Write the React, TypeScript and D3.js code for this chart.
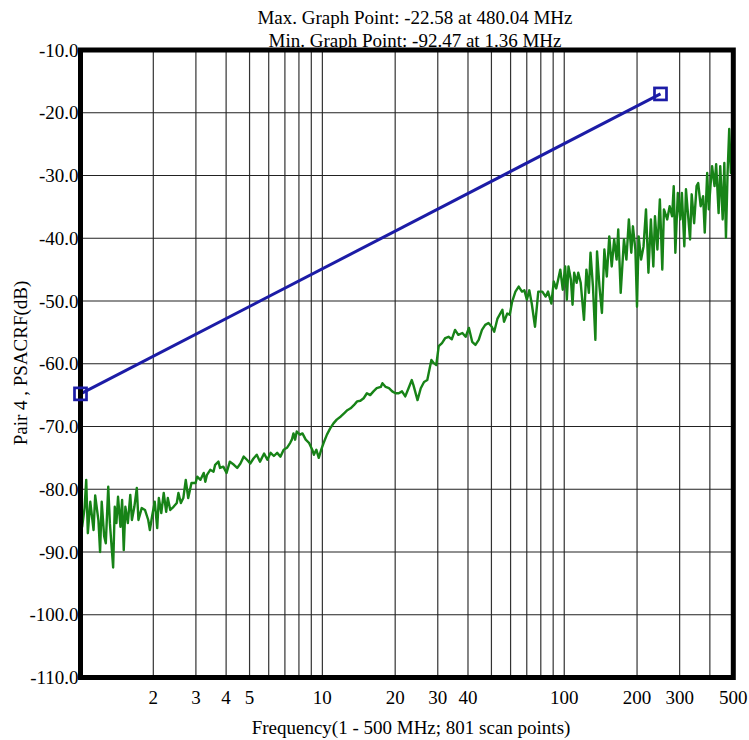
import React from "react";
import * as d3 from "d3";

const W = 749;
const H = 740;

// scan definition: 801 log-spaced points from 1 to 500 MHz
const scanStartMHz = 1;
const scanStopMHz = 500;
const scanCount = 801;

const scanIdx = [
  0, 2, 5, 7, 9, 12, 16, 18, 22, 24, 26, 29, 31, 34, 36, 40, 42, 44, 46, 49, 51, 53, 55, 58, 61, 63, 66, 69, 71, 75,
  79, 83, 85, 88, 91, 94, 96, 99, 102, 105, 107, 110, 114, 118, 120, 123, 126, 129, 132, 136, 141, 143, 147, 151, 153,
  155, 159, 163, 165, 169, 171, 175, 179, 183, 188, 192, 196, 200, 204, 208, 212, 216,
  220, 225, 229, 233, 237, 241, 245, 249, 253, 257, 259, 261, 263, 265, 269, 272, 276, 280, 284, 286, 289, 292, 295,
  298, 302, 306, 310, 314, 319, 323, 327, 331, 335, 339, 343, 347, 351, 355, 359, 363, 368, 370, 374, 378, 382, 386,
  390, 394, 398, 402, 406, 408, 413, 417, 421, 425,
  430, 433, 436, 439, 443, 447, 451, 455, 459, 463, 468, 472, 476, 480, 484, 488, 492, 496, 500, 504, 507, 511, 517,
  519, 523, 526, 529, 533, 537, 541, 544, 547, 550, 553, 557, 561, 566, 570, 573, 577, 580, 583,
  588, 591, 594, 596, 598, 601, 603, 605, 608, 610, 613, 617, 620, 623, 625, 628, 631, 633, 636, 639, 642, 645, 648,
  651, 654, 657, 659, 662, 666, 669, 672, 675, 677, 680, 682, 684, 687, 690, 693, 696, 699, 702, 704, 707, 710, 713,
  715, 719, 722, 725, 727, 729, 732, 735, 737, 740, 742, 745, 747, 749, 752, 755, 757, 760, 763, 765, 768, 770, 772,
  774, 777, 779, 782, 784, 787, 789, 791, 793, 795, 797, 799, 800,
];

const levelDb = [
  -84.5, -86.0, -83.0, -78.5, -87.0, -82.0, -86.5, -81.0, -85.0, -90.0, -82.0, -87.5, -88.6, -79.6, -85.4, -92.47,
  -82.8, -85.4, -81.2, -86.0, -81.7, -89.7, -82.8, -85.4, -80.9, -84.9, -82.8, -79.8, -84.9, -83.0, -83.3, -84.9,
  -86.5, -84.1, -82.0, -86.2, -81.4, -83.8, -80.6, -83.6, -81.4, -83.3, -82.8, -82.2, -80.6, -82.2, -81.4, -78.5,
  -81.4, -79.0, -79.0, -78.0, -78.5, -77.4, -78.8, -77.7, -76.9, -77.2, -76.1, -75.6, -76.6, -76.4, -77.4, -75.6,
  -76.1, -76.6, -75.9, -74.8, -75.3, -75.9, -75.1, -74.5,
  -75.6, -74.3, -75.3, -74.2, -74.7, -74.2, -74.8, -73.7, -73.4, -72.6, -72.1, -71.1, -72.1, -70.8, -71.3, -71.1,
  -72.1, -72.6, -73.7, -74.5, -73.7, -75.0, -73.7, -72.6, -71.3, -70.3, -69.5, -68.9, -68.4, -67.9, -67.4, -67.1,
  -66.6, -66.0, -65.9, -65.5, -64.7, -65.0, -64.4, -63.9, -63.7, -63.1, -63.7, -63.9, -64.4, -64.7, -64.7, -64.4,
  -65.2, -63.9, -62.6, -63.4, -65.8, -63.9, -62.9, -62.6,
  -59.4, -59.9, -60.2, -57.2, -56.7, -55.9, -55.7, -56.1, -54.6, -55.4, -55.1, -55.7, -54.3, -56.5, -57.0, -56.2,
  -54.6, -53.8, -53.5, -54.1, -54.9, -52.8, -51.4, -53.3, -52.0, -52.2, -50.1, -48.5, -47.7, -48.5, -48.3, -49.8,
  -48.3, -50.4, -54.1, -48.5, -48.5, -49.3, -48.5, -50.4, -46.9, -48.0,
  -45.0, -48.2, -44.5, -49.8, -44.5, -46.6, -50.6, -45.5, -47.1, -45.5, -47.1, -53.0, -45.0, -48.7, -42.3, -47.7,
  -56.2, -42.1, -47.7, -51.9, -41.8, -46.1, -39.7, -44.5, -40.2, -43.4, -38.6, -48.7, -40.2, -43.4, -37.0, -42.3,
  -38.1, -41.8, -50.9, -39.7, -43.4, -41.3, -35.4, -45.5, -37.0, -44.5, -36.5, -41.8, -33.8, -45.0, -35.4, -37.0,
  -34.9, -36.5, -31.7, -42.3, -32.8, -37.0, -32.8, -41.3, -32.2, -37.0, -40.2, -33.0, -37.6, -31.7, -31.2, -34.9,
  -33.3, -39.1, -29.6, -35.4, -31.7, -28.5, -31.7, -28.2, -36.0, -28.5, -37.0, -28.0, -39.9, -29.6, -22.58, -29.6,
  -27.7, -30.6,
];

const limitFreqMHz = [1, 250];
const limitDb = [-64.8, -17.0];

const xTickValues = [2, 3, 4, 5, 10, 20, 30, 40, 100, 200, 300, 500];
const xGridValues = [2, 3, 4, 5, 6, 7, 8, 9, 10, 20, 30, 40, 50, 60, 70, 80, 90, 100, 200, 300, 400];
const yTickValues = [-10, -20, -30, -40, -50, -60, -70, -80, -90, -100, -110];

const titleLines = ["Max. Graph Point: -22.58 at 480.04 MHz", "Min. Graph Point: -92.47 at 1.36 MHz"];
const xTitle = "Frequency(1 - 500 MHz; 801 scan points)";
const yTitle = "Pair 4 , PSACRF(dB)";

const FONT = "'Liberation Serif', 'Times New Roman', serif";

export default function App() {
  const left = 80.5;
  const right = 733.3;
  const top = 50;
  const bottom = 677.5;

  const x = d3.scaleLog().domain([scanStartMHz, scanStopMHz]).range([left, right]);
  const y = d3.scaleLinear().domain([-10, -110]).range([top, bottom]);

  const freqOf = (i: number) =>
    scanStartMHz * Math.pow(scanStopMHz / scanStartMHz, i / (scanCount - 1));

  const data = scanIdx.map((i, k) => ({ f: freqOf(i), v: levelDb[k] }));
  const line = d3
    .line<{ f: number; v: number }>()
    .x((d) => x(d.f))
    .y((d) => y(d.v));

  const limitData = limitFreqMHz.map((f, k) => ({ f, v: limitDb[k] }));

  const green = "#178317";
  const blue = "#1c1ca6";
  const ms = 12;

  return (
    <svg
      width={W}
      height={H}
      style={{ position: "absolute", left: 0, top: 0, background: "#fff" }}
      fontFamily={FONT}
    >
      <rect x={0} y={0} width={W} height={H} fill="#fff" />
      {/* grid */}
      {xGridValues.map((g) => (
        <line key={"gx" + g} x1={x(g)} x2={x(g)} y1={top} y2={bottom} stroke="#333" strokeWidth={1.2} />
      ))}
      {yTickValues.slice(1, -1).map((g) => (
        <line key={"gy" + g} x1={left} x2={right} y1={y(g)} y2={y(g)} stroke="#222" strokeWidth={1.2} />
      ))}
      {/* data */}
      <path d={line(data) || ""} fill="none" stroke={green} strokeWidth={2.4} strokeLinejoin="round" />
      <path d={line(limitData) || ""} fill="none" stroke={blue} strokeWidth={3} />
      {/* frame */}
      <rect x={left} y={top} width={right - left} height={bottom - top} fill="none" stroke="#000" strokeWidth={5} />
      {limitData.map((d, k) => (
        <rect
          key={"m" + k}
          x={x(d.f) - ms / 2}
          y={y(d.v) - ms / 2}
          width={ms}
          height={ms}
          fill="none"
          stroke={blue}
          strokeWidth={2.7}
        />
      ))}
      {/* y ticks */}
      {yTickValues.map((t) => (
        <text key={"yt" + t} x={left - 2} y={y(t) + 6.5} textAnchor="end" fontSize={19} fill="#000">
          {t.toFixed(1)}
        </text>
      ))}
      {/* x ticks */}
      {xTickValues.map((t) => (
        <text key={"xt" + t} x={x(t)} y={704} textAnchor="middle" fontSize={19} fill="#000">
          {t}
        </text>
      ))}
      {/* titles */}
      {titleLines.map((s, k) => (
        <text key={"tl" + k} x={415} y={24 + k * 23} textAnchor="middle" fontSize={19} fill="#000">
          {s}
        </text>
      ))}
      <text x={411} y={734} textAnchor="middle" fontSize={19} fill="#000">
        {xTitle}
      </text>
      <text transform={`translate(27,363) rotate(-90)`} textAnchor="middle" fontSize={19} fill="#000">
        {yTitle}
      </text>
    </svg>
  );
}
